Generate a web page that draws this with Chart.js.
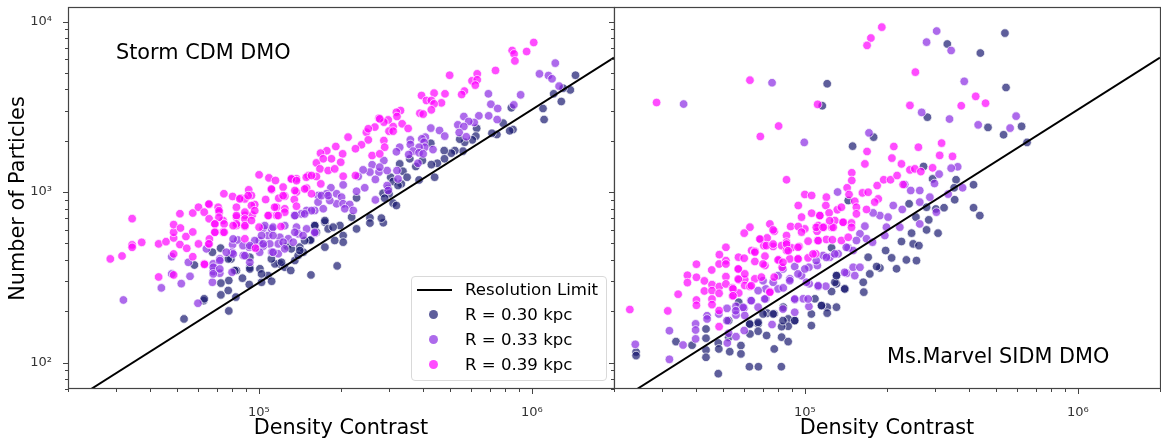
<!DOCTYPE html>
<html>
<head>
<meta charset="utf-8">
<script src="https://cdn.jsdelivr.net/npm/chart.js@4"></script>
<style>
  html, body { margin: 0; background: #fff; }
  body { width: 1161px; height: 439px; position: relative; overflow: hidden; font-family: "DejaVu Sans", sans-serif; color: #000; }
  canvas { position: absolute; top: 0; }
  .note { position: absolute; font-size: 20.8px; line-height: 24px; white-space: nowrap; }
  #legend { position: absolute; left: 411px; top: 276px; width: 194px; height: 103px; border: 1px solid #d9d9d9; border-radius: 4px; background: rgba(255,255,255,.8); font-size: 16.6px; }
  #legend .row { position: absolute; left: 53px; white-space: nowrap; line-height: 20px; }
  #legend .key { position: absolute; }
</style>
</head>
<body>
<canvas id="stormChart" width="615" height="439" style="left:0"></canvas>
<canvas id="marvelChart" width="561" height="439" style="left:600px"></canvas>
<div class="note" style="left:116px;top:40px" id="stormTitle"></div>
<div class="note" style="left:887px;top:344px" id="marvelTitle"></div>
<div id="legend"></div>
<script>
// all values as [log10 density contrast, log10 particles]
const seriesLabels = ["R = 0.30 kpc", "R = 0.33 kpc", "R = 0.39 kpc"];
const limitLabel = "Resolution Limit";
const panelTitles = ["Storm CDM DMO", "Ms.Marvel SIDM DMO"];
const xTitle = "Density Contrast";
const yTitle = "Number of Particles";
const limitX = [2.43e4, 2e6];
const limitY = [70, 6150];

const stormR30 = [[4.726,2.256],[4.764,2.572],[4.798,2.363],[4.890,2.303],[4.898,2.608],
[5.407,2.849],[5.407,2.818],[5.358,2.784],[5.358,2.966],[5.297,2.804],[5.340,2.853],[5.456,2.820],[5.309,2.745],[5.309,2.706],[5.278,2.716],[5.242,2.677],[5.287,2.567],[5.191,2.514],[5.205,2.804],[5.242,2.823],[5.254,2.784],[5.211,2.765],[5.187,2.716],[5.150,2.677],[5.163,2.647],[5.132,2.599],[5.104,2.683],[5.077,2.579],[5.095,2.559],[5.117,2.540],[5.034,2.510],[5.047,2.477],[5.010,2.471],[4.965,2.458],[4.940,2.495],[5.004,2.550],[4.967,2.559],[4.918,2.540],[4.890,2.481],[4.861,2.466],[4.888,2.423],[4.861,2.397],[4.916,2.384],[4.800,2.374],[4.830,2.647],[4.860,2.671],[4.967,2.618],[5.144,2.628],[5.059,2.579],
[5.150,2.657],[5.190,2.719],[5.119,2.667],[5.046,2.608],[5.010,2.520],[4.967,2.549],[4.912,2.540],[4.888,2.608],[5.205,2.803],[5.168,2.715],[5.083,2.588],[5.242,2.833],[5.272,2.794],
[6.160,3.685],[6.141,3.599],[6.108,3.531],[6.080,3.576],[6.115,3.609],[6.041,3.490],[6.045,3.425],[5.925,3.494],[5.931,3.367],[5.919,3.359],[5.895,3.404],[5.872,3.337],[5.854,3.345],[5.798,3.374],[5.795,3.328],[5.782,3.306],[5.754,3.292],[5.736,3.310],[5.748,3.240],[5.718,3.243],[5.705,3.228],[5.679,3.243],[5.680,3.195],[5.654,3.169],[5.632,3.161],[5.644,3.087],[5.630,3.286],[5.599,3.185],[5.575,3.150],[5.553,3.195],[5.516,3.165],[5.528,3.122],[5.543,3.087],[5.587,3.071],[5.483,3.087],[5.522,3.048],[5.492,3.062],[5.510,3.038],[5.474,3.019],[5.455,2.993],[5.477,2.989],[5.461,2.964],[5.492,2.935],[5.504,2.921],[5.449,2.847]];

const stormR33 = [[4.504,2.367],[4.643,2.438],[4.716,2.463],[4.748,2.506],[4.777,2.348],[4.681,2.621],[4.681,2.520],[4.742,2.588],
[5.415,3.160],[5.407,3.117],[5.382,3.130],[5.440,3.117],[5.427,3.074],[5.364,3.091],[5.388,3.025],[5.358,3.005],[5.309,3.042],[5.264,3.025],[5.217,2.980],[5.248,2.990],[5.285,2.990],[5.303,2.970],[5.217,2.941],[5.285,2.931],[5.309,2.931],[5.333,2.927],[5.427,2.954],[5.315,2.902],[5.346,2.892],[5.260,2.950],[5.205,2.892],[5.236,2.902],[5.175,2.892],[5.132,2.863],[5.156,2.872],[5.205,2.759],[5.175,2.784],[5.138,2.794],[5.144,2.755],[5.108,2.726],[5.077,2.735],[5.034,2.745],[5.016,2.788],[5.047,2.784],[5.071,2.696],[5.040,2.696],[5.016,2.683],[5.047,2.648],[4.985,2.677],[4.943,2.628],[4.904,2.692],[4.902,2.647],[4.857,2.608],[4.833,2.579],[4.833,2.534],[4.902,2.530],[4.830,2.471],[4.857,2.524],[5.071,2.638],[5.126,2.706],[4.808,2.667],[4.923,2.719],[4.965,2.676],[5.002,2.715],
[5.229,2.979],[5.254,2.979],[5.193,2.891],[5.168,2.872],[5.132,2.862],[5.022,2.803],[5.052,2.794],[5.095,2.803],[5.132,2.764],[5.205,2.764],[5.162,2.745],[5.010,2.745],[4.985,2.715],[5.052,2.745],[5.016,2.696],[5.052,2.647],[5.089,2.706],[4.942,2.686],[4.967,2.686],[4.906,2.725],[4.906,2.637],[4.857,2.598],[4.833,2.559],[4.857,2.549],[4.833,2.520],[4.949,2.627],[5.003,2.647],[4.967,2.588],[4.881,2.647],[5.095,2.667],
[6.086,3.756],[6.028,3.693],[6.061,3.683],[6.074,3.664],[6.100,3.621],[5.959,3.570],[5.841,3.576],[5.934,3.511],[5.850,3.515],[5.875,3.490],[5.751,3.443],[5.806,3.447],[5.842,3.447],[5.873,3.425],[5.789,3.408],[5.769,3.414],[5.729,3.394],[5.751,3.384],[5.630,3.375],[5.662,3.361],[5.681,3.328],[5.734,3.349],[5.760,3.324],[5.610,3.322],[5.597,3.312],[5.555,3.306],[5.555,3.279],[5.605,3.292],[5.608,3.263],[5.587,3.263],[5.516,3.263],[5.504,3.236],[5.638,3.249],[5.565,3.240],[5.587,3.230],[5.549,3.220],[5.602,3.224],[5.583,3.169],[5.458,3.185],[5.470,3.126],[5.506,3.126],[5.510,3.077],[5.470,3.038],[5.443,3.146],[5.474,3.009]];

const stormR39 = [[4.536,2.844],[4.456,2.608],[4.499,2.625],[4.536,2.690],[4.536,2.676],[4.571,2.705],[4.633,2.696],[4.660,2.709],[4.633,2.502],[4.688,2.514],[4.688,2.637],[4.711,2.692],[4.688,2.731],[4.688,2.764],[4.688,2.809],[4.713,2.789],[4.711,2.873],[4.758,2.877],[4.779,2.911],[4.733,2.739],[4.758,2.766],[4.779,2.696],[4.736,2.670],[4.758,2.621],
[5.440,3.433],[5.425,3.381],[5.394,3.351],[5.401,3.371],[5.327,3.322],[5.401,3.306],[5.376,3.277],[5.354,3.254],[5.415,3.214],[5.282,3.267],[5.249,3.242],[5.226,3.228],[5.307,3.224],[5.300,3.175],[5.211,3.171],[5.266,3.195],[5.236,3.195],[5.224,3.136],[5.254,3.126],[5.278,3.136],[5.309,3.093],[5.354,3.097],[5.001,3.101],[5.037,3.083],[5.061,3.068],[5.181,3.097],[5.138,3.078],[5.120,3.078],[5.211,3.091],[5.227,3.048],[5.175,3.023],[5.089,3.029],[5.047,3.013],[4.963,3.013],[5.138,3.000],[4.872,2.990],[4.904,2.974],[4.934,2.964],[5.193,2.990],[5.095,2.976],[5.073,2.964],[5.025,2.956],[5.130,2.956],[4.973,2.980],[4.818,2.927],[4.851,2.911],[4.918,2.911],[4.985,2.927],[5.065,2.911],[5.138,2.917],[5.095,2.902],[4.800,2.882],[4.855,2.882],[4.918,2.853],[4.949,2.863],[4.976,2.866],[5.037,2.863],[5.065,2.863],[4.818,2.843],[4.869,2.833],[4.839,2.814],[4.918,2.804],[4.949,2.798],[5.001,2.794],[5.081,2.798],[4.869,2.765],[4.839,2.765],[4.949,2.726],[4.818,2.696],[4.988,2.671],[4.800,2.579],[4.801,2.576],[4.819,2.725],
[4.854,2.891],[4.854,2.852],[4.839,2.813],[4.873,2.813],[4.873,2.764],[4.839,2.764],[4.918,2.862],[4.949,2.882],[4.949,2.842],[4.949,2.803],[4.918,2.813],[4.973,2.921],[4.985,2.891],[4.973,2.833],[4.949,2.960],[4.961,2.979],[4.930,2.960],[4.906,2.803],[5.058,2.911],[5.089,2.979],[5.095,2.882],[5.071,2.862],[5.046,3.018],[5.132,3.009],[5.168,3.018],[5.174,3.087],[5.119,3.077],[5.138,3.067],[5.193,3.097],[5.034,2.862],[4.817,2.930],[4.817,2.696],
[6.007,3.877],[5.928,3.830],[5.935,3.810],[5.981,3.824],[5.938,3.769],[5.867,3.713],[5.800,3.693],[5.699,3.685],[5.781,3.652],[5.800,3.658],[5.793,3.627],[5.753,3.592],[5.743,3.572],[5.682,3.576],[5.642,3.580],[5.596,3.566],[5.614,3.537],[5.632,3.537],[5.669,3.523],[5.642,3.517],[5.632,3.482],[5.590,3.462],[5.602,3.457],[5.519,3.478],[5.504,3.468],[5.506,3.443],[5.525,3.400],[5.547,3.373],[5.492,3.384],[5.474,3.423],[5.458,3.410],[5.443,3.429],[5.477,3.357],[5.492,3.357],[5.458,3.302],[5.461,3.263],[5.443,3.224]];

const marvelR30 = [[4.382,2.062],[4.382,2.041],[4.528,2.123],[4.587,2.102],[4.638,2.197],[4.638,2.143],[4.638,2.074],[4.638,2.031],[4.683,2.115],[4.685,2.080],[4.683,1.935],[4.725,2.064],[4.721,2.246],[4.758,2.354],[4.721,2.148],[4.797,1.976],[4.830,1.976],[4.914,1.976],
[5.468,3.077],[5.382,2.931],[5.446,2.911],[5.480,2.901],[5.407,2.853],[5.454,2.837],[5.446,2.778],[5.488,2.759],[5.391,2.759],[5.354,2.710],[5.397,2.696],[5.418,2.686],[5.296,2.657],[5.318,2.614],[5.372,2.602],[5.409,2.598],[5.275,2.555],[5.336,2.550],[5.238,2.520],[5.214,2.471],[5.216,2.413],[5.116,2.510],[5.116,2.462],[5.147,2.432],[5.098,2.417],[5.116,2.325],[5.082,2.325],[5.061,2.335],[5.082,2.290],[5.024,2.217],[4.963,2.247],[4.939,2.256],[4.939,2.213],[4.915,2.211],[4.915,2.149],[4.939,2.123],[4.888,2.080],[4.860,2.159],[4.862,2.290],[4.888,2.286],[4.799,2.227],[4.829,2.227],[4.829,2.184],[4.799,2.168],[4.766,2.100],[4.766,2.051],[4.921,2.325],[5.037,2.374],[5.098,2.673],[5.232,2.618],[5.159,2.950],[5.263,2.563],
[5.146,2.432],[5.110,2.471],[5.116,2.510],[4.884,2.285],[4.847,2.285],[4.829,2.236],[4.920,2.246],[4.798,2.226],[4.963,2.246],[5.024,2.285],[5.061,2.334],
[5.733,3.932],[5.522,3.868],[5.643,3.815],[5.737,3.613],[5.082,3.635],[5.064,3.506],[5.449,3.439],[5.671,3.379],[5.794,3.385],[5.728,3.336],[5.814,3.291],[5.252,3.322],[5.175,3.269],[5.435,3.150],[5.554,3.072],[5.618,3.043],[5.547,3.025],[5.549,2.955],[5.618,2.908],[5.510,2.908],[5.641,2.862]];

const marvelR33 = [[4.379,2.107],[4.504,2.019],[4.504,2.187],[4.554,2.103],[4.600,2.227],[4.600,2.191],[4.600,2.139],[4.642,2.275],[4.642,2.256],[4.685,2.285],[4.715,2.318],[4.715,2.246],[4.716,2.115],[4.721,2.172],[4.748,2.330],[4.748,2.279],[4.748,2.152],
[5.120,3.000],[5.366,3.044],[5.388,3.009],[5.421,3.009],[5.458,2.970],[5.421,2.941],[5.324,2.921],[5.357,2.898],[5.482,2.882],[5.275,2.862],[5.250,2.878],[5.305,2.853],[5.299,2.794],[5.348,2.794],[5.421,2.813],[5.220,2.800],[5.202,2.755],[5.226,2.726],[5.248,2.706],[5.293,2.745],[5.189,2.716],[5.159,2.673],[5.177,2.657],[5.122,2.638],[5.092,2.618],[5.067,2.628],[5.046,2.569],[5.015,2.559],[4.988,2.510],[4.963,2.563],[4.945,2.491],[4.902,2.510],[4.902,2.432],[4.857,2.432],[4.921,2.438],[4.963,2.368],[5.016,2.462],[5.049,2.446],[5.077,2.448],[5.015,2.329],[4.994,2.374],[5.177,2.559],[5.202,2.559],[5.153,2.524],[4.963,2.295],[4.777,2.319],[4.802,2.364],[4.829,2.325],[4.780,2.276],[4.857,2.374],[4.880,2.223],[4.778,2.188],
[5.079,2.617],[5.110,2.637],[5.042,2.598],[4.945,2.480],[4.975,2.520],[5.006,2.471],[5.049,2.451],[5.000,2.549],[4.920,2.549],[4.884,2.471],[4.847,2.480],[4.829,2.422],[4.853,2.373],[4.804,2.363],[4.774,2.324],[4.963,2.373],[5.012,2.373],[4.920,2.314],[5.152,2.676],[5.146,2.529],[5.183,2.510],[4.747,2.304],
[5.483,3.944],[5.446,3.879],[5.536,3.830],[5.584,3.649],[4.880,3.641],[4.556,3.516],[5.428,3.467],[5.530,3.428],[5.635,3.394],[5.774,3.445],[5.752,3.375],[5.235,3.347],[4.998,3.291],[5.560,3.148],[5.536,3.140],[5.492,3.105],[5.475,3.050],[5.578,3.025],[5.525,2.988]];

const marvelR39 = [[4.359,2.311],[4.498,2.303],[4.536,2.401],[4.603,2.577],[4.570,2.512],[4.570,2.469],[4.603,2.500],[4.632,2.479],[4.632,2.420],[4.603,2.367],[4.603,2.336],[4.659,2.543],[4.660,2.457],[4.660,2.422],[4.660,2.373],[4.660,2.340],[4.687,2.633],[4.686,2.578],[4.687,2.446],[4.686,2.406],[4.686,2.305],[4.686,2.211],[4.711,2.676],[4.711,2.598],[4.711,2.578],[4.711,2.504],[4.711,2.461],[4.735,2.438],[4.735,2.391],[4.757,2.618],[4.757,2.549],[4.758,2.485],[4.758,2.408],
[4.933,3.072],[5.220,3.165],[5.354,3.165],[5.172,3.113],[5.172,3.068],[5.155,3.025],[5.162,2.986],[5.000,2.986],[5.025,2.980],[5.079,2.970],[4.976,2.921],[5.077,2.921],[5.183,2.946],[5.211,2.995],[5.232,2.999],[5.269,2.960],[5.256,2.941],[5.265,3.038],[5.289,3.072],[5.314,3.072],[5.338,3.097],[5.385,3.130],[5.403,3.136],[5.425,3.120],[5.468,3.142],[5.360,3.044],[5.226,2.898],[5.189,2.911],[5.189,2.872],[5.119,2.896],[5.134,2.911],[5.089,2.878],[5.055,2.862],[5.025,2.876],[4.988,2.853],[5.141,2.823],[5.171,2.819],[5.110,2.833],[5.049,2.804],[5.070,2.794],[5.098,2.794],[5.000,2.784],[4.799,2.794],[4.872,2.813],[4.948,2.798],[4.976,2.798],[4.778,2.759],[4.888,2.770],[4.933,2.745],[5.045,2.770],[4.838,2.722],[4.862,2.731],[4.988,2.765],[5.012,2.712],[5.047,2.716],[5.079,2.722],[5.101,2.720],[5.134,2.716],[5.159,2.735],[4.884,2.681],[4.850,2.686],[4.915,2.686],[4.933,2.706],[4.951,2.673],[4.979,2.681],[4.805,2.657],[4.817,2.653],[4.854,2.624],[4.906,2.602],[4.933,2.657],[5.012,2.614],[5.040,2.638],[4.976,2.608],[4.945,2.608],[4.778,2.612],[4.817,2.593],[4.917,2.559],[4.854,2.569],[4.888,2.501],[4.817,2.491],[4.841,2.501],[4.780,2.487],[4.780,2.452],[4.872,2.417],[4.799,2.446],
[4.859,2.686],[4.884,2.695],[4.933,2.695],[4.939,2.656],[4.902,2.602],[4.920,2.588],[4.975,2.608],[4.975,2.676],[4.835,2.725],[4.884,2.778],[5.042,2.793],[5.067,2.793],[5.104,2.793],[5.140,2.823],[5.171,2.793],[5.030,2.637],[5.049,2.715],[5.091,2.832],[5.055,2.862],[4.817,2.647],[4.847,2.578],[4.756,2.549],[4.780,2.520],[4.756,2.490],[4.804,2.451],[4.872,2.412],[4.737,2.432],[4.737,2.392],
[5.282,3.967],[5.242,3.903],[5.228,3.860],[5.405,3.703],[4.799,3.656],[4.457,3.525],[5.047,3.514],[5.385,3.508],[5.573,3.506],[5.626,3.561],[5.662,3.521],[4.904,3.387],[4.837,3.326],[5.326,3.267],[5.416,3.263],[5.501,3.287],[5.228,3.238],[5.494,3.215],[5.541,3.209],[5.319,3.199]];

const seriesColors = ["rgba(25,25,112,.7)", "rgba(138,43,226,.7)", "rgba(255,0,255,.7)"];

const toPoints = (s) => s.map(([x, y]) => ({ x: 10 ** x, y: 10 ** y }));
const sup = { 2: "²", 3: "³", 4: "⁴", 5: "⁵", 6: "⁶", 7: "⁷" };

function decadeLabel(v) {
  const e = Math.log10(v);
  return Number.isInteger(e) ? "10" + sup[e] : "";
}

// box on all sides plus long/short ticks, Chart.js has only one tick length
const boxAndTicks = {
  id: "boxAndTicks",
  afterDraw(chart) {
    const { ctx, chartArea: a, scales } = chart;
    ctx.save();
    ctx.strokeStyle = "#444";
    ctx.lineWidth = 1.2;
    ctx.strokeRect(a.left + 0.5, a.top - 0.5, a.right - a.left, a.bottom - a.top);
    ctx.lineWidth = 1;
    ctx.beginPath();
    scales.x.ticks.forEach((t) => {
      const exp = Math.floor(Math.log10(t.value) + 1e-9);
      const m = t.value / 10 ** exp;
      if (Math.abs(m - Math.round(m)) > 1e-6) return;
      const px = Math.round(scales.x.getPixelForValue(t.value)) + 0.5;
      ctx.moveTo(px, a.bottom);
      ctx.lineTo(px, a.bottom + (Math.abs(m - 1) < 1e-6 ? 5 : 3));
    });
    scales.y.ticks.forEach((t) => {
      const exp = Math.floor(Math.log10(t.value) + 1e-9);
      const m = t.value / 10 ** exp;
      if (Math.abs(m - Math.round(m)) > 1e-6) return;
      const py = Math.round(scales.y.getPixelForValue(t.value)) + 0.5;
      ctx.moveTo(a.left, py);
      ctx.lineTo(a.left - (Math.abs(m - 1) < 1e-6 ? 5 : 3), py);
    });
    ctx.stroke();
    ctx.restore();
  },
};

function scatterSet(label, values, color, order) {
  return {
    label,
    data: toPoints(values),
    order,
    backgroundColor: color,
    borderColor: "rgba(255,255,255,.7)",
    borderWidth: 1,
    pointRadius: 4.3,
  };
}

function noScalePadding(scale) {
  scale.paddingLeft = 0;
  scale.paddingRight = 0;
  scale.paddingTop = 0;
  scale.paddingBottom = 0;
}

function makePanel(id, series, isLeft) {
  new Chart(document.getElementById(id), {
    type: "scatter",
    data: {
      datasets: [
        {
          label: limitLabel,
          data: limitX.map((x, i) => ({ x, y: limitY[i] })),
          showLine: true,
          order: 0,
          borderColor: "#000",
          borderWidth: 2,
          pointRadius: 0,
        },
        scatterSet(seriesLabels[0], series[0], seriesColors[0], 3),
        scatterSet(seriesLabels[1], series[1], seriesColors[1], 2),
        scatterSet(seriesLabels[2], series[2], seriesColors[2], 1),
      ],
    },
    options: {
      responsive: false,
      animation: false,
      layout: { autoPadding: false, padding: { top: 8, right: 1 } },
      plugins: { legend: { display: false }, tooltip: { enabled: false } },
      scales: {
        x: {
          type: "logarithmic",
          min: 2e4,
          max: 2e6,
          grid: { display: false },
          border: { display: false },
          ticks: {
            autoSkip: false,
            maxRotation: 0,
            padding: 8,
            color: "#333",
            font: { family: "DejaVu Sans", size: 13 },
            callback: decadeLabel,
          },
          title: {
            display: true,
            text: xTitle,
            color: "#000",
            font: { family: "DejaVu Sans", size: 20.8 },
            padding: { top: 0, bottom: -2 },
          },
          afterFit(scale) {
            scale.height = 50;
            noScalePadding(scale);
          },
        },
        y: {
          type: "logarithmic",
          min: 70,
          max: 12000,
          grid: { display: false },
          border: { display: false },
          ticks: {
            autoSkip: false,
            padding: 8,
            color: "#333",
            font: { family: "DejaVu Sans", size: 13 },
            callback: (v) => (isLeft ? decadeLabel(v) : ""),
          },
          title: {
            display: isLeft,
            text: yTitle,
            color: "#000",
            font: { family: "DejaVu Sans", size: 20.8 },
            padding: { top: 6, bottom: 0 },
          },
          afterFit(scale) {
            scale.width = isLeft ? 68 : 14;
            noScalePadding(scale);
          },
        },
      },
    },
    plugins: [boxAndTicks],
  });
}

makePanel("stormChart", [stormR30, stormR33, stormR39], true);
makePanel("marvelChart", [marvelR30, marvelR33, marvelR39], false);

document.getElementById("stormTitle").textContent = panelTitles[0];
document.getElementById("marvelTitle").textContent = panelTitles[1];

// legend box sits inside the left panel, so it is built by hand
const legend = document.getElementById("legend");
const rows = [limitLabel, ...seriesLabels];
rows.forEach((text, i) => {
  const mid = 13 + i * 25;
  const row = document.createElement("div");
  row.className = "row";
  row.style.top = mid - 10 + "px";
  row.textContent = text;
  legend.appendChild(row);
  const key = document.createElement("div");
  key.className = "key";
  if (i === 0) {
    key.style.cssText = `left:5px;top:${mid - 1}px;width:35px;height:2px;background:#000`;
  } else {
    key.style.cssText = `left:17px;top:${mid - 5}px;width:9px;height:9px;border-radius:50%;background:${seriesColors[i - 1]}`;
  }
  legend.appendChild(key);
});
</script>
</body>
</html>
